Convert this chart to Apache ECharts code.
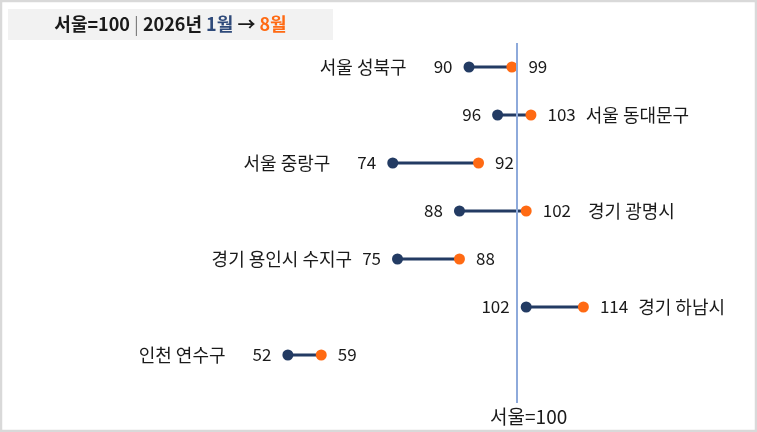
<!DOCTYPE html>
<html>
<head>
<meta charset="utf-8">
<script src="https://cdn.jsdelivr.net/npm/echarts@6/dist/echarts.min.js"></script>
<style>
html,body{margin:0;padding:0;background:#fff;}
#c{width:757px;height:432px;}
</style>
</head>
<body>
<div id="c"></div>
<script>
// ---- data ----
const regions = ['서울 성북구','서울 동대문구','서울 중랑구','경기 광명시','경기 용인시 수지구','경기 하남시','인천 연수구'];
const janValues = [90, 96, 74, 88, 75, 102, 52];
const augValues = [99, 103, 92, 102, 88, 114, 59];
const baseValue = 100;
const baseLabel = '서울=100';

// ---- style ----
const FONT = "'Noto Sans CJK KR','Noto Sans',sans-serif";
const NAVY = '#233b63';
const ORANGE = '#ff6a13';
const TEXT = '#1a1a1a';
const NAME_SIZE = 18, VAL_SIZE = 17;
const leftGapDefault = 27, rightGapDefault = 10;
const gapOverride = {'경기 용인시 수지구': 10, '경기 광명시': 17};

const chart = echarts.init(document.getElementById('c'), null, {renderer:'canvas'});

const nameOnRight = augValues.map(v => v > baseValue);

const richStyles = (r, side) => ({
  v: {fontSize: VAL_SIZE, fontFamily: FONT, color: TEXT},
  n: {fontSize: NAME_SIZE, fontFamily: FONT, color: TEXT,
      padding: side === 'left'
        ? [0, (gapOverride[r] ?? leftGapDefault), 0, 0]
        : [0, 0, 0, (gapOverride[r] ?? rightGapDefault)]}
});

const segData = regions.map((r, i) => [janValues[i], augValues[i], i]);
const janData = regions.map((r, i) => ({
  value: [janValues[i], i],
  label: {
    formatter: nameOnRight[i] ? '{v|' + janValues[i] + '}'
      : '{n|' + r + '}{v|' + janValues[i] + '}',
    rich: richStyles(r, 'left')
  }
}));
const augData = regions.map((r, i) => ({
  value: [augValues[i], i],
  label: {
    formatter: nameOnRight[i] ? '{v|' + augValues[i] + '}{n|' + r + '}'
      : '{v|' + augValues[i] + '}',
    rich: richStyles(r, 'right')
  }
}));

const option = {
  animation: false,
  backgroundColor: '#ffffff',
  grid: {left: 40, right: 2, top: 43, bottom: 29, containLabel: false},
  xAxis: {
    type: 'value', min: 0, max: 150,
    axisLine: {show: false}, axisTick: {show: false}, splitLine: {show: false},
    axisLabel: {
      show: true, customValues: [baseValue], margin: 4,
      padding: [0, 0, 0, 24],
      formatter: () => baseLabel,
      fontSize: 19, fontFamily: FONT, color: TEXT
    }
  },
  yAxis: {
    type: 'value', inverse: true, min: -0.5, max: 7, show: false
  },
  graphic: [
    {type: 'rect', z: -10, shape: {x: 1, y: 1, width: 755, height: 430},
     style: {fill: 'none', stroke: '#d9d9d9', lineWidth: 2.5}},
    {type: 'rect', z: 1, shape: {x: 8, y: 9, width: 325, height: 31},
     style: {fill: '#f2f2f2'}},
    {type: 'text', z: 2, x: 170.5, y: 24.5,
     style: {
       x: 0, y: 0, align: 'center', verticalAlign: 'middle',
       text: '{b|서울=100 }{s||}{b| 2026년 }{n|1월}{b| → }{o|8월}',
       rich: {
         b: {fontSize: 18, fontWeight: 'bold', fontFamily: FONT, fill: '#1a1a1a'},
         s: {fontSize: 18, fontFamily: FONT, fill: '#7f7f7f'},
         n: {fontSize: 18, fontWeight: 'bold', fontFamily: FONT, fill: '#2f4a7a'},
         o: {fontSize: 18, fontWeight: 'bold', fontFamily: FONT, fill: ORANGE}
       }
     }}
  ],
  series: [
    {
      type: 'custom',
      data: segData,
      z: 2,
      renderItem: function (params, api) {
        const p1 = api.coord([api.value(0), api.value(2)]);
        const p2 = api.coord([api.value(1), api.value(2)]);
        return {type: 'line', shape: {x1: p1[0], y1: p1[1], x2: p2[0], y2: p2[1]},
                style: {stroke: NAVY, lineWidth: 3}};
      },
      markLine: {
        silent: true, symbol: 'none', animation: false,
        lineStyle: {color: '#8eaadb', width: 2, type: 'solid'},
        label: {show: false},
        data: [{xAxis: baseValue}]
      }
    },
    {
      type: 'scatter', data: janData, symbolSize: 11, z: 3,
      itemStyle: {color: NAVY, opacity: 1},
      label: {show: true, position: 'left', distance: 11}
    },
    {
      type: 'scatter', data: augData, symbolSize: 11, z: 3,
      itemStyle: {color: ORANGE, opacity: 1},
      label: {show: true, position: 'right', distance: 11}
    }
  ]
};
chart.setOption(option);
</script>
</body>
</html>
